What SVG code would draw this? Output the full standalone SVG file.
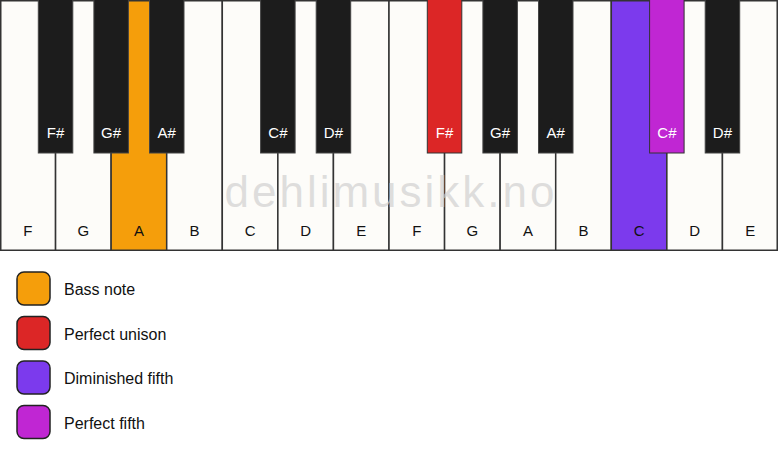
<svg xmlns="http://www.w3.org/2000/svg" width="778" height="461" viewBox="0 0 778 461">
<style>
.w{fill:#fdfcf9;stroke:#333;stroke-width:1.5}
.b{fill:#1c1c1c;stroke:#444;stroke-width:1}
.wl{font-family:"Liberation Sans",Arial,sans-serif;font-size:15px;fill:#111;text-anchor:middle}
.bl{font-family:"Liberation Sans",Arial,sans-serif;font-size:15px;fill:#fff;text-anchor:middle}
.lg{font-family:"Liberation Sans",Arial,sans-serif;font-size:16px;fill:#111}
.sw{stroke:#222;stroke-width:1.5}
.wm{font-family:"Liberation Sans",Arial,sans-serif;font-size:44px;letter-spacing:3px;fill:#d0d0d0;fill-opacity:0.7;text-anchor:middle}
</style>
<rect width="778" height="461" fill="#ffffff"/>
<g id="white-keys">
<g id="w0"><rect class="w" x="0.75" y="0.75" width="54.8" height="249.5"/><text class="wl" x="27.8" y="236">F</text></g>
<g id="w1"><rect class="w" x="55.57" y="0.75" width="55.57" height="249.5"/><text class="wl" x="83.4" y="236">G</text></g>
<g id="w2"><rect class="w" x="111.14" y="0.75" width="55.57" height="249.5" style="fill:#f59e0b"/><text class="wl" x="138.9" y="236">A</text></g>
<g id="w3"><rect class="w" x="166.71" y="0.75" width="55.57" height="249.5"/><text class="wl" x="194.5" y="236">B</text></g>
<g id="w4"><rect class="w" x="222.29" y="0.75" width="55.57" height="249.5"/><text class="wl" x="250.1" y="236">C</text></g>
<g id="w5"><rect class="w" x="277.86" y="0.75" width="55.57" height="249.5"/><text class="wl" x="305.6" y="236">D</text></g>
<g id="w6"><rect class="w" x="333.43" y="0.75" width="55.57" height="249.5"/><text class="wl" x="361.2" y="236">E</text></g>
<g id="w7"><rect class="w" x="389" y="0.75" width="55.57" height="249.5"/><text class="wl" x="416.8" y="236">F</text></g>
<g id="w8"><rect class="w" x="444.57" y="0.75" width="55.57" height="249.5"/><text class="wl" x="472.4" y="236">G</text></g>
<g id="w9"><rect class="w" x="500.14" y="0.75" width="55.57" height="249.5"/><text class="wl" x="527.9" y="236">A</text></g>
<g id="w10"><rect class="w" x="555.71" y="0.75" width="55.57" height="249.5"/><text class="wl" x="583.5" y="236">B</text></g>
<g id="w11"><rect class="w" x="611.29" y="0.75" width="55.57" height="249.5" style="fill:#7c3aed"/><text class="wl" x="639.1" y="236">C</text></g>
<g id="w12"><rect class="w" x="666.86" y="0.75" width="55.57" height="249.5"/><text class="wl" x="694.6" y="236">D</text></g>
<g id="w13"><rect class="w" x="722.43" y="0.75" width="54.8" height="249.5"/><text class="wl" x="750.2" y="236">E</text></g>
</g>
<text id="watermark" class="wm" x="391" y="207">dehlimusikk.no</text>
<g id="black-keys">
<g id="b1"><rect class="b" x="38.3" y="-1" width="34.5" height="154"/><text class="bl" x="55.6" y="138">F#</text></g>
<g id="b2"><rect class="b" x="93.9" y="-1" width="34.5" height="154"/><text class="bl" x="111.1" y="138">G#</text></g>
<g id="b3"><rect class="b" x="149.5" y="-1" width="34.5" height="154"/><text class="bl" x="166.7" y="138">A#</text></g>
<g id="b5"><rect class="b" x="260.6" y="-1" width="34.5" height="154"/><text class="bl" x="277.9" y="138">C#</text></g>
<g id="b6"><rect class="b" x="316.2" y="-1" width="34.5" height="154"/><text class="bl" x="333.4" y="138">D#</text></g>
<g id="b8"><rect class="b" x="427.3" y="-1" width="34.5" height="154" style="fill:#dc2626;stroke:#333"/><text class="bl" x="444.6" y="138">F#</text></g>
<g id="b9"><rect class="b" x="482.9" y="-1" width="34.5" height="154"/><text class="bl" x="500.1" y="138">G#</text></g>
<g id="b10"><rect class="b" x="538.5" y="-1" width="34.5" height="154"/><text class="bl" x="555.7" y="138">A#</text></g>
<g id="b12"><rect class="b" x="649.6" y="-1" width="34.5" height="154" style="fill:#c026d3;stroke:#333"/><text class="bl" x="666.9" y="138">C#</text></g>
<g id="b13"><rect class="b" x="705.2" y="-1" width="34.5" height="154"/><text class="bl" x="722.4" y="138">D#</text></g>
</g>
<g id="connectors"></g>
<g id="legend">
<g id="lg-bass"><rect class="sw" x="17" y="272" width="33" height="33" rx="7" fill="#f59e0b"/><text class="lg" x="64" y="295">Bass note</text></g>
<g id="lg-unison"><rect class="sw" x="17" y="316.5" width="33" height="33" rx="7" fill="#dc2626"/><text class="lg" x="64" y="339.5">Perfect unison</text></g>
<g id="lg-dim5"><rect class="sw" x="17" y="361" width="33" height="33" rx="7" fill="#7c3aed"/><text class="lg" x="64" y="384">Diminished fifth</text></g>
<g id="lg-p5"><rect class="sw" x="17" y="405.5" width="33" height="33" rx="7" fill="#c026d3"/><text class="lg" x="64" y="428.5">Perfect fifth</text></g>
</g>
</svg>
